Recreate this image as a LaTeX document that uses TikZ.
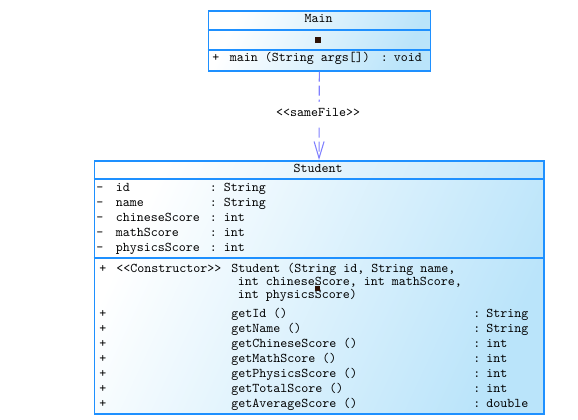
\documentclass[tikz,border=0pt]{standalone}
\usepackage{fontspec}
\usetikzlibrary{arrows.meta}
\definecolor{umlborder}{RGB}{30,144,255}
\definecolor{umlfill}{RGB}{186,228,250}
\definecolor{deparrow}{RGB}{128,128,255}
\definecolor{markcol}{RGB}{45,18,6}
\begin{document}
\begin{tikzpicture}[x=0.75pt,y=-0.75pt,
  classbox/.style={draw=umlborder, line width=1.2pt, left color=white, right color=umlfill, shading angle=65, inner sep=0, anchor=north west},
  sepline/.style={draw=umlborder, line width=1.2pt},
  txt/.style={font=\ttfamily\fontsize{10pt}{11pt}\selectfont, inner sep=0, anchor=west, text height=6.5pt, text depth=1.6pt},
  ctxt/.style={txt, anchor=center},
  markbox/.style={fill=markcol, inner sep=0, minimum size=#1},
  dep/.style={draw=deparrow, line width=0.8pt, dash pattern=on 7.5pt off 3pt, -{Straight Barb[length=12.5pt,width=7.5pt,line width=0.8pt]}},
  deplabel/.style={txt, anchor=center, fill=white, inner xsep=2pt, inner ysep=4pt}
]
\useasboundingbox (0,0) rectangle (578,419);

% Main class
\node[classbox, minimum width=166.5pt, minimum height=45pt] (main) at (207.5,10) {};
\draw[sepline] (main.west |- 0,30) -- (main.east |- 0,30);
\draw[sepline] (main.west |- 0,50) -- (main.east |- 0,50);
\node[ctxt] (maintitle) at (318.5,19.5) {Main};
\node[markbox=4.5pt] (mainmark) at (318,40) {};
\node[txt] (mplus) at (212,58.5) {+};
\node[txt] (mmeth) at (229.5,58.5) {main (String args[])};
\node[txt] (mcolon) at (380.5,58.5) {:};
\node[txt] (mtype) at (393.5,58.5) {void};

% Student class
\node[classbox, minimum width=337.1pt, minimum height=189.75pt] (student) at (93.5,160) {};
\draw[sepline] (student.west |- 0,179) -- (student.east |- 0,179);
\draw[sepline] (student.west |- 0,258) -- (student.east |- 0,258);
\node[ctxt] (stitle) at (318,169) {Student};

\foreach \n/\t/\y [count=\i] in {id/String/188.5, name/String/203.5, chineseScore/int/218.5, mathScore/int/233.5, physicsScore/int/248.5} {
  \node[txt] (am\i) at (96,\y) {-};
  \node[txt] (an\i) at (115.5,\y) {\n};
  \node[txt] (ac\i) at (209.5,\y) {:};
  \node[txt] (at\i) at (223.5,\y) {\t};
}

\node[txt] (cplus) at (99,269) {+};
\node[txt] (cster) at (116,269) {<\kern0pt<Constructor>\kern0pt>};
\node[txt] (cl1) at (231,269) {Student (String id, String name,};
\node[txt] (cl2) at (237.5,282) {int chineseScore, int mathScore,};
\node[txt] (cl3) at (237.5,295) {int physicsScore)};
\node[markbox=3.75pt] (cursor) at (317.5,288) {};

\foreach \m/\t/\y [count=\i] in {getId ()/String/314, getName ()/String/329, getChineseScore ()/int/344, getMathScore ()/int/359, getPhysicsScore ()/int/374, getTotalScore ()/int/389, getAverageScore ()/double/404} {
  \node[txt] (gp\i) at (99,\y) {+};
  \node[txt] (gm\i) at (231,\y) {\m};
  \node[txt] (gc\i) at (473,\y) {:};
  \node[txt] (gt\i) at (486,\y) {\t};
}

% dependency
\draw[dep] (main.south) -- (student.north);
\node[deplabel] (samefile) at (318,113) {<\kern0pt<sameFile>\kern0pt>};
\end{tikzpicture}
\end{document}
